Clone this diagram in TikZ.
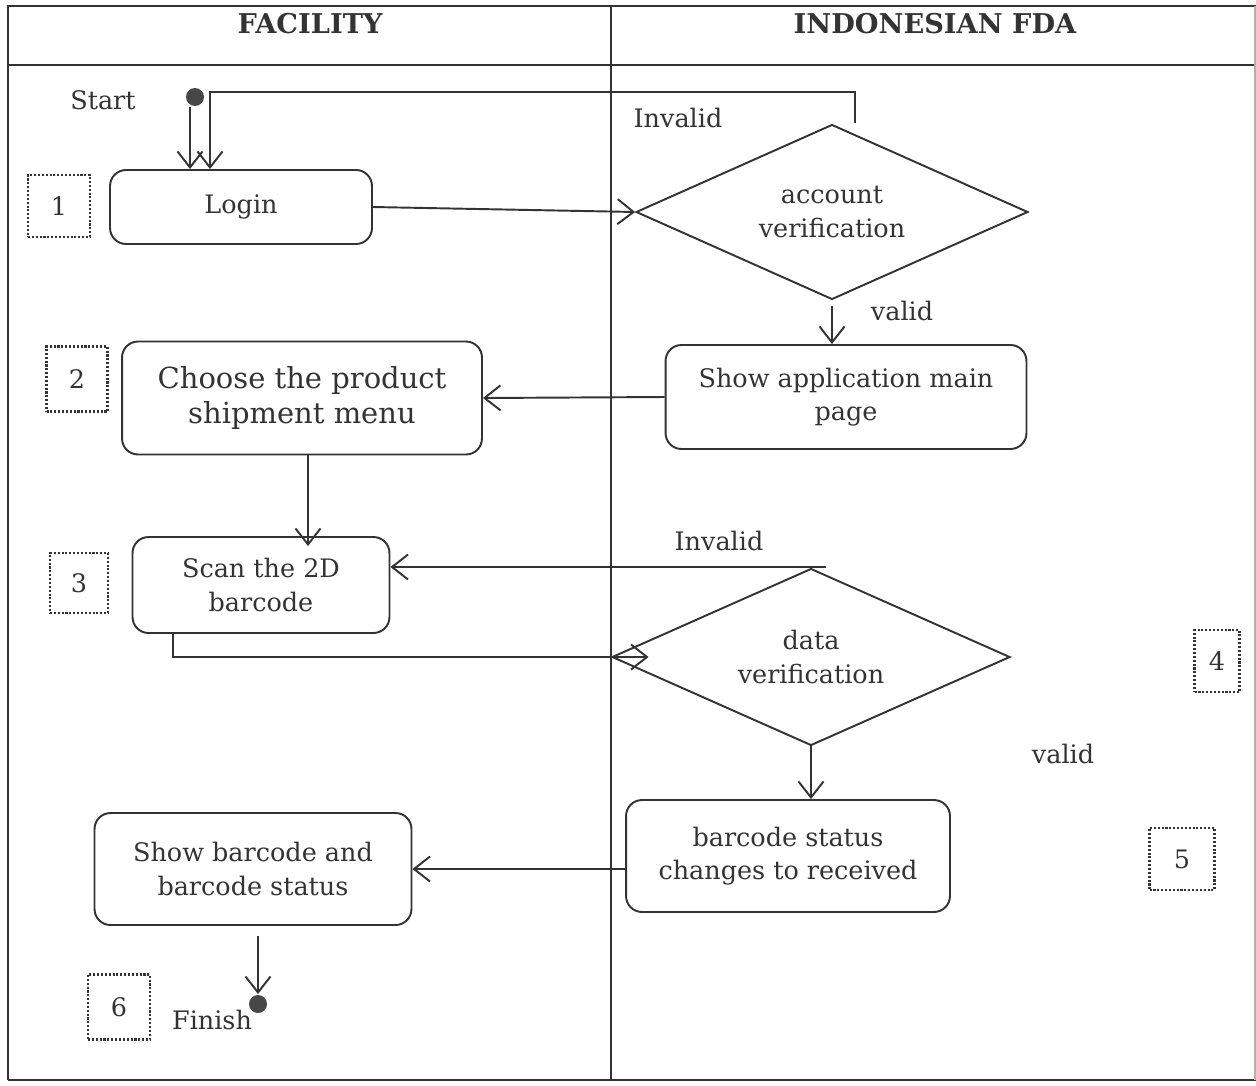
\documentclass[tikz,border=0pt]{standalone}
\usepackage{fontspec}
\setmainfont{DejaVu Serif}
\usetikzlibrary{shapes.geometric,arrows.meta,positioning}

\begin{document}
\begin{tikzpicture}[x=0.02cm,y=-0.02cm,font=\fontsize{14.5}{19}\selectfont,
  line width=1.1pt,draw=black!80,text=black!80,
  act/.style={draw,rounded corners=3.2mm,align=center},
  dec/.style={draw,diamond,aspect=2.2,align=center,inner sep=0pt},
  num/.style={draw,densely dotted,line width=1.2pt},
  dot/.style={circle,fill=black!72,inner sep=0pt,minimum size=0.36cm},
  arr/.style={-{Straight Barb[length=3.2mm,width=5mm]}},
  head/.style={font=\fontsize{15.5}{19}\selectfont\bfseries}]

\useasboundingbox (0,0) rectangle (1256,1085);

% swimlanes
\draw (8,1080) -- (8,6) -- (1256,6);
\draw (8,65) -- (1256,65);
\draw (611,6) -- (611,1080);
\draw (8,1080) -- (1256,1080);
\draw[black!30] (1255,6) -- (1255,1080);
\node[head] (fac) at (310,24) {FACILITY};
\node[head] (fda) at (935,24) {INDONESIAN FDA};

% facility lane
\node[dot] (start) at (195,97) {};
\node (startlbl) at (103,100) {Start};
\node[act,minimum width=5.24cm,minimum height=1.48cm] (login) at (241,207) {Login};
\node[act,minimum width=7.2cm,minimum height=2.26cm,font=\fontsize{16.5}{20}\selectfont] (choose) at (302,398) {Choose the product\\shipment menu};
\node[act,minimum width=5.14cm,minimum height=1.92cm] (scan) at (261,585) {Scan the 2D\\barcode};
\node[act,minimum width=6.34cm,minimum height=2.24cm] (showbc) at (253,869) {Show barcode and\\barcode status};
\node[dot] (finish) at (258,1004) {};
\node (finishlbl) at (212,1020) {Finish};

% fda lane
\node[dec,minimum width=7.84cm,minimum height=3.5cm] (acc) at (832,212) {account\\verification};
\node[act,minimum width=7.22cm,minimum height=2.08cm] (mainpg) at (846,397) {Show application main\\page};
\node[dec,minimum width=7.96cm,minimum height=3.54cm] (data) at (811,657) {data\\verification};
\node[act,minimum width=6.48cm,minimum height=2.24cm] (status) at (788,856) {barcode status\\changes to received};
\node (inv1) at (678,118) {Invalid};
\node (val1) at (902,311) {valid};
\node (inv2) at (719,541) {Invalid};
\node (val2) at (1063,754) {valid};

% step numbers
\node[num,minimum width=1.24cm,minimum height=1.24cm] (n1) at (59,206) {1};
\node[num,minimum width=1.22cm,minimum height=1.3cm] (n2) at (77,379) {2};
\node[num,minimum width=1.16cm,minimum height=1.2cm] (n3) at (79,583) {3};
\node[num,minimum width=0.9cm,minimum height=1.24cm] (n4) at (1217,661) {4};
\node[num,minimum width=1.3cm,minimum height=1.24cm] (n5) at (1182,859) {5};
\node[num,minimum width=1.24cm,minimum height=1.3cm] (n6) at (119,1007) {6};

% flows
\coordinate (loopa) at (855,123);
\draw[arr] (start.south -| 190,0) -- (login.north -| 190,0);
\draw[arr] (loopa) |- (210,92) -- (login.north -| 210,0);
\draw[arr] (login.east) -- (acc.west);
\draw[arr] (acc.south) ++(0,6) -- (mainpg.north -| acc.south);
\draw[arr] (mainpg.west) -- (choose.east);
\draw[arr] (choose.south -| 308,0) -- ([yshift=-0.2cm]scan.north -| 308,0);
\coordinate (inva) at (826,567);
\draw[arr] (inva) -- (scan.east |- inva);
\draw[arr] (scan.south -| 173,0) |- ([xshift=0.75cm]data.west);
\draw[arr] (data.south) -- (status.north -| data.south);
\draw[arr] (status.west |- showbc.east) -- (showbc.east);
\draw[arr] ([yshift=-0.2cm]showbc.south -| finish) -- (finish.north);

\end{tikzpicture}
\end{document}
